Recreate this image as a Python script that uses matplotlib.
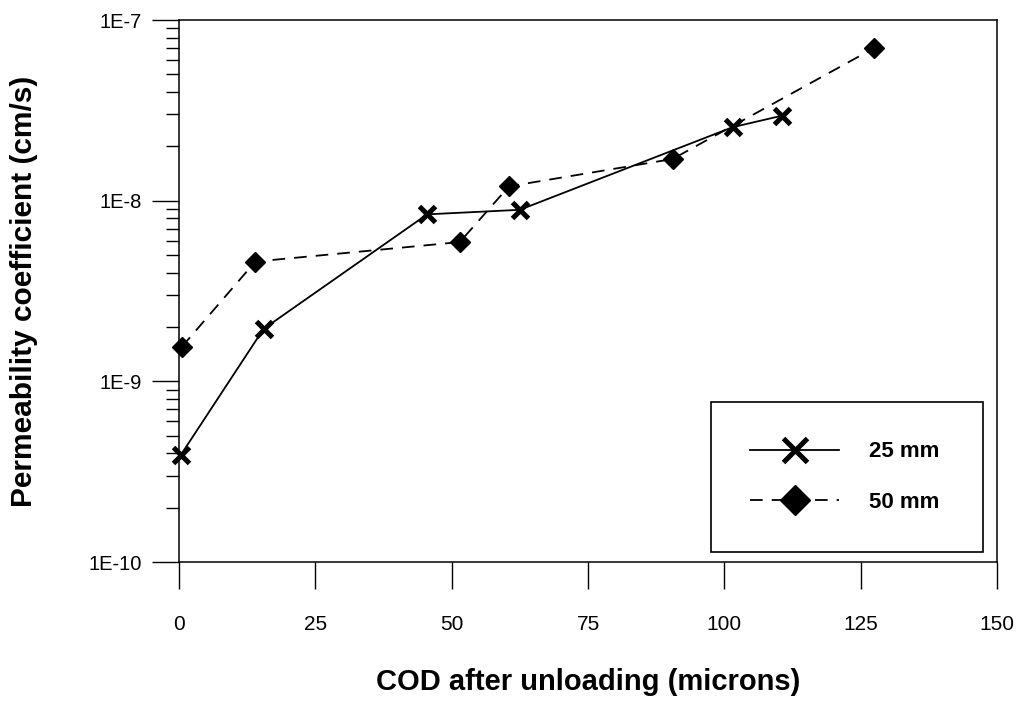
import numpy as np
import matplotlib
matplotlib.use("Agg")
import matplotlib.pyplot as plt
from matplotlib.ticker import FixedLocator, FixedFormatter, LogLocator, NullFormatter

plt.rcParams["font.family"] = ["Liberation Sans", "DejaVu Sans"]

# ---------------------------------------------------------------
# Data
# ---------------------------------------------------------------
cod_25 = [0.3, 15.5, 45.5, 62.5, 101.5, 110.5]
perm_25 = [3.9e-10, 1.95e-9, 8.4e-9, 8.9e-9, 2.55e-8, 2.95e-8]

cod_50 = [0.5, 14.0, 51.5, 60.5, 90.5, 127.5]
perm_50 = [1.55e-9, 4.6e-9, 5.9e-9, 1.2e-8, 1.7e-8, 7.0e-8]

x_ticks = [0, 25, 50, 75, 100, 125, 150]
y_ticks = [1e-10, 1e-9, 1e-8, 1e-7]
y_tick_labels = ["1E-10", "1E-9", "1E-8", "1E-7"]

series_labels = ["25 mm", "50 mm"]

# ---------------------------------------------------------------
# Figure
# ---------------------------------------------------------------
fig = plt.figure(figsize=(10.16, 7.09), dpi=100)
ax = fig.add_axes([179 / 1016, 1 - 562 / 709, 818 / 1016, 542 / 709])

ax.plot(cod_25, perm_25, color="black", lw=1.3, marker="x",
        markersize=11.5, markeredgewidth=3.6, label=series_labels[0],
        clip_on=False, zorder=3)
ax.plot(cod_50, perm_50, color="black", lw=1.3, ls=(0, (7, 5)), marker="D",
        markersize=10, label=series_labels[1], clip_on=False, zorder=3)

ax.set_yscale("log")
ax.set_xlim(0, 150)
ax.set_ylim(1e-10, 1e-7)

ax.xaxis.set_major_locator(FixedLocator(x_ticks))
ax.set_xticklabels([str(t) for t in x_ticks])
ax.yaxis.set_major_locator(FixedLocator(y_ticks))
ax.yaxis.set_major_formatter(FixedFormatter(y_tick_labels))
ax.yaxis.set_minor_locator(LogLocator(base=10, subs=np.arange(2, 10)))
ax.yaxis.set_minor_formatter(NullFormatter())

ax.tick_params(axis="x", which="major", direction="out", length=19.5,
               width=1.0, labelsize=15, pad=18.5)
ax.tick_params(axis="y", which="major", direction="out", length=19.5,
               width=1.0, labelsize=14.5, pad=7)
ax.tick_params(axis="y", which="minor", direction="out", length=9.5, width=1.0)

for s in ax.spines.values():
    s.set_linewidth(1.1)

ax.set_xlabel("COD after unloading (microns)", fontsize=21, fontweight="bold")
ax.set_ylabel("Permeability coefficient (cm/s)", fontsize=21.5, fontweight="bold")
ax.xaxis.set_label_coords(0.5, -0.195)
ax.yaxis.set_label_coords(-0.172, 0.5)

leg = ax.legend(loc="lower left", bbox_to_anchor=(0.650, 0.018, 0.333, 0.0),
                mode="expand", fancybox=False, shadow=False, framealpha=1,
                edgecolor="black", prop={"weight": "bold", "size": 16},
                markerscale=1.5, handlelength=4.0, handletextpad=1.35,
                borderpad=1.78, labelspacing=1.32, borderaxespad=0)
leg.get_frame().set_linewidth(1.2)

fig.savefig("out.png", dpi=100, facecolor="white")
